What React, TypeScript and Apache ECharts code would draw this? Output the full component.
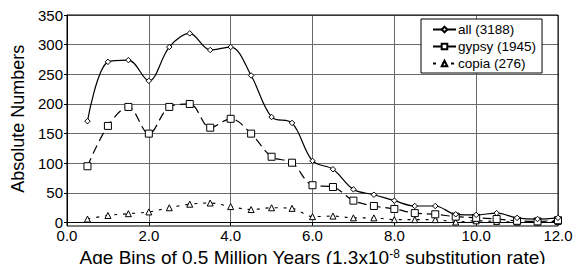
import React, { useEffect, useRef } from "react";
import * as echarts from "echarts";

const ageBins = [0.5, 1.0, 1.5, 2.0, 2.5, 3.0, 3.5, 4.0, 4.5, 5.0, 5.5, 6.0, 6.5, 7.0, 7.5, 8.0, 8.5, 9.0, 9.5, 10.0, 10.5, 11.0, 11.5, 12.0];
const allValues = [171, 271, 274, 239, 296, 319, 291, 296, 248, 178, 168, 104, 90, 56, 47, 37, 28, 28, 14, 13, 16, 8, 6, 8];
const gypsyValues = [95, 163, 195, 150, 195, 200, 160, 175, 150, 111, 101, 63, 60, 37, 28, 23, 16, 14, 10, 8, 6, 3, 2, 4];
const copiaValues = [6, 12, 15, 18, 25, 31, 33, 27, 22, 25, 24, 10, 11, 8, 8, 5, 5, 5, 1, 3, 2, 1, 1, 2];
const seriesNames = ["all (3188)", "gypsy (1945)", "copia (276)"];

const FONT = "Liberation Sans, Arial, Helvetica, sans-serif";

export default function App() {
  const ref = useRef<HTMLDivElement>(null);
  useEffect(() => {
    if (!ref.current) return;
    const chart = echarts.init(ref.current, null, { renderer: "svg" });
    const pair = (vals: number[]) => ageBins.map((x, i) => [x, vals[i]]);
    chart.setOption({
      animation: false,
      backgroundColor: "#ffffff",
      textStyle: { fontFamily: FONT, color: "#000" },
      grid: { left: 67, right: 25, top: 15, bottom: 46 },
      legend: {
        orient: "vertical",
        left: 421,
        top: 19,
        width: 129,
        padding: [3, 6, 2, 11],
        itemGap: 2,
        itemWidth: 23,
        itemHeight: 7,
        borderColor: "#000",
        borderWidth: 1,
        backgroundColor: "#fff",
        textStyle: { fontFamily: FONT, fontSize: 13.5, lineHeight: 15, color: "#000", padding: [0, 0, 0, -3] },
        data: seriesNames,
      },
      xAxis: {
        type: "value",
        min: 0,
        max: 12,
        interval: 2,
        name: "{a|Age Bins of 0.5 Million Years (1.3x10}{s|-8}{a| substitution rate)}",
        nameLocation: "middle",
        nameGap: 24,
        nameTextStyle: {
          rich: {
            a: { fontFamily: FONT, fontSize: 19, color: "#000", lineHeight: 20 },
            s: { fontFamily: FONT, fontSize: 12, color: "#000", verticalAlign: "top", lineHeight: 9 },
          },
        },
        axisLine: { show: true, lineStyle: { color: "#000", width: 1 } },
        axisTick: { show: true, length: 3, lineStyle: { color: "#000" } },
        axisLabel: {
          fontFamily: FONT,
          fontSize: 15,
          lineHeight: 13,
          color: "#000",
          margin: 6,
          formatter: (v: number) => v.toFixed(1),
        },
        splitLine: { show: true, lineStyle: { color: "#6a6a6a", width: 1 } },
      },
      yAxis: {
        type: "value",
        min: 0,
        max: 350,
        interval: 50,
        name: "Absolute Numbers",
        nameLocation: "middle",
        nameGap: 37,
        nameTextStyle: { fontFamily: FONT, fontSize: 18, color: "#000" },
        axisLine: { show: true, lineStyle: { color: "#000", width: 1 } },
        axisTick: { show: true, length: 3, lineStyle: { color: "#000" } },
        axisLabel: { fontFamily: FONT, fontSize: 15, lineHeight: 12, color: "#000", margin: 4 },
        splitLine: { show: true, lineStyle: { color: "#6a6a6a", width: 1 } },
      },
      graphic: [
        {
          type: "rect",
          shape: { x: 67, y: 15, width: 491, height: 211 },
          style: { fill: "none", stroke: "#000", lineWidth: 1 },
          z: 1,
          silent: true,
        },
      ],
      series: [
        {
          name: seriesNames[0],
          type: "line",
          data: pair(allValues),
          smooth: 0.35,
          symbol: "diamond",
          symbolSize: 5.5,
          lineStyle: { color: "#000", width: 1.2, type: "solid" },
          itemStyle: { color: "#fff", borderColor: "#000", borderWidth: 1 },
          z: 5,
        },
        {
          name: seriesNames[1],
          type: "line",
          data: pair(gypsyValues),
          smooth: 0.35,
          symbol: "rect",
          symbolSize: 7,
          lineStyle: { color: "#000", width: 1.2, type: [9, 5] },
          itemStyle: { color: "#fff", borderColor: "#000", borderWidth: 1 },
          z: 4,
        },
        {
          name: seriesNames[2],
          type: "line",
          data: pair(copiaValues),
          smooth: 0.35,
          symbol: "triangle",
          symbolSize: 6,
          lineStyle: { color: "#000", width: 1.1, type: [3, 6] },
          itemStyle: { color: "#fff", borderColor: "#000", borderWidth: 1 },
          z: 3,
        },
      ],
    });
    return () => chart.dispose();
  }, []);
  return <div ref={ref} style={{ width: 583, height: 272, margin: -8 }} />;
}
